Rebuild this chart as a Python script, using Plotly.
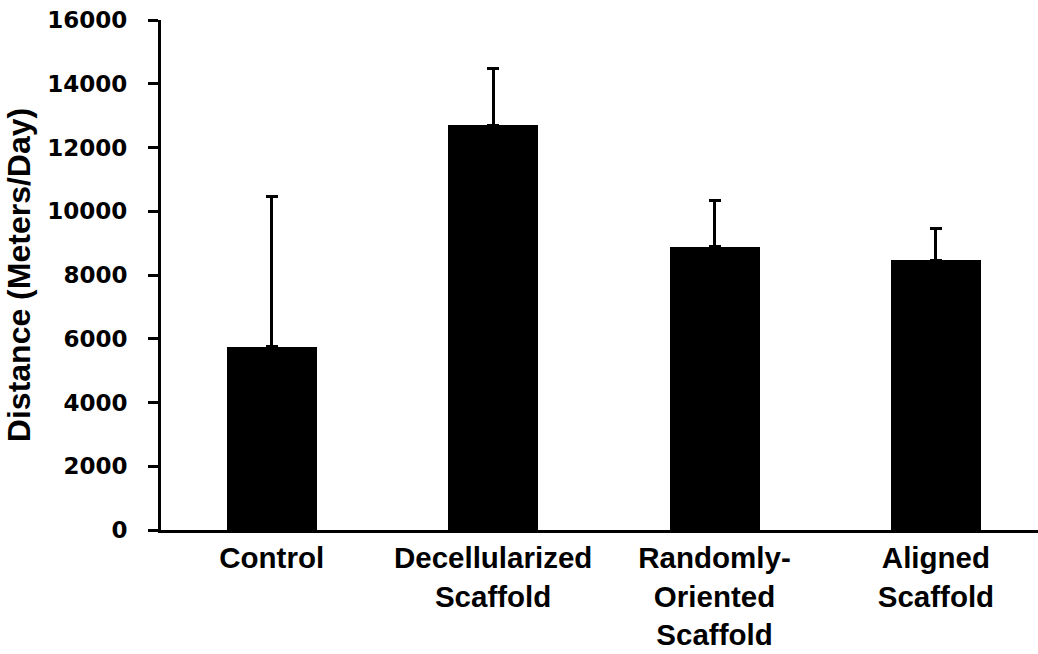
import plotly.graph_objects as go

# Mean travel distance per group, with the upper standard deviation
categories = ["Control", "Decellularized<br>Scaffold", "Randomly-<br>Oriented<br>Scaffold", "Aligned<br>Scaffold"]
mean_distance = [5750, 12700, 8880, 8460]
upper_error = [4720, 1790, 1470, 1000]
y_ticks = [0, 2000, 4000, 6000, 8000, 10000, 12000, 14000, 16000]

fig = go.Figure(
    go.Bar(
        x=list(range(len(categories))),
        y=mean_distance,
        width=0.4065,
        marker=dict(color="black", line=dict(width=0)),
        error_y=dict(
            type="data",
            symmetric=False,
            array=upper_error,
            arrayminus=[0] * len(upper_error),
            color="black",
            thickness=3,
            width=6,
        ),
    )
)

fig.update_layout(
    width=1038,
    height=654,
    margin=dict(l=161, r=0, t=20, b=124),
    paper_bgcolor="white",
    plot_bgcolor="white",
    showlegend=False,
    bargap=0,
)

fig.update_xaxes(
    range=[-0.5, 3.461],
    tickmode="array",
    tickvals=list(range(len(categories))),
    ticktext=categories,
    showline=True,
    linecolor="black",
    linewidth=3,
    ticks="",
    showgrid=False,
    zeroline=False,
    automargin=False,
    tickfont=dict(family="Liberation Sans, Arial", size=29.5, color="black", weight="bold"),
    ticklabelstandoff=0,
)

fig.update_yaxes(
    range=[0, 16000],
    tickmode="array",
    tickvals=y_ticks,
    ticktext=[str(v) for v in y_ticks],
    showline=True,
    linecolor="black",
    linewidth=3,
    ticks="outside",
    ticklen=10,
    tickwidth=3,
    tickcolor="black",
    showgrid=False,
    zeroline=False,
    automargin=False,
    tickfont=dict(family="DejaVu Sans", size=23, color="black", weight="bold"),
    ticklabelstandoff=16,
    title=dict(
        text="Distance (Meters/Day)",
        font=dict(family="Liberation Sans, Arial", size=32, color="black", weight="bold"),
        standoff=8,
    ),
)

fig.write_html("out.html")
